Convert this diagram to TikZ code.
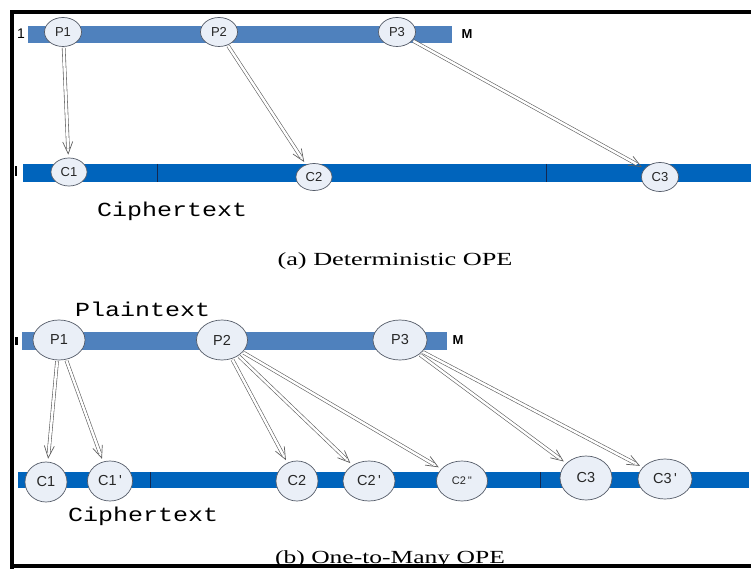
\documentclass[tikz,border=0pt]{standalone}
\usepackage{fontspec}
\setmainfont{Liberation Serif}
\newfontfamily\labelfont{Liberation Sans}
\newfontfamily\monofont{Liberation Mono}
\usetikzlibrary{arrows.meta,shapes.geometric,decorations.markings}

\definecolor{plainbar}{RGB}{79,129,189}
\definecolor{cipherbar}{RGB}{0,100,188}
\definecolor{divider}{RGB}{20,40,80}
\definecolor{ovalfill}{RGB}{234,239,247}
\definecolor{ovalline}{RGB}{85,92,105}
\definecolor{arrowline}{RGB}{95,95,95}

\begin{document}
\begin{tikzpicture}[x=1pt,y=-1pt,
  oval/.style={ellipse, draw=ovalline, line width=0.7pt, fill=ovalfill,
    inner sep=0pt, text=black!85, font=\labelfont\fontsize{13}{13}\selectfont},
  bigoval/.style={oval, minimum height=40pt,
    font=\labelfont\fontsize{14.5}{14.5}\selectfont},
  % hollow double shaft ending inside an open barb head
  maparrow/.style={draw=arrowline, line width=0.6pt, double=white,
    double distance=2.4pt, shorten >=9pt, shorten <=1pt,
    postaction={decorate, decoration={markings,
      mark=at position -3pt with {\arrow[arrowline, line width=0.7pt]{Straight Barb[length=12pt, width=10pt]}}}}},
  axislabel/.style={font=\labelfont\fontsize{14}{14}\selectfont, inner sep=0pt},
  axisend/.style={font=\labelfont\bfseries\fontsize{13}{13}\selectfont, inner sep=0pt},
  sidetext/.style={font=\monofont\fontsize{20}{20}\selectfont, inner sep=0pt, anchor=base west},
  caption/.style={font=\fontsize{18.5}{18.5}\selectfont, inner sep=0pt, anchor=base}
]
\useasboundingbox (0,0) rectangle (751,569);
\fill[white] (0,0) rectangle (751,569);

% frame: top, left and bottom rules
\fill[black] (10,10) rectangle (751,14);
\fill[black] (10,10) rectangle (14,569);
\fill[black] (10,564) rectangle (751,568);

% ---------- (a) deterministic OPE ----------
\fill[plainbar] (28,26) rectangle (452,43);
\fill[cipherbar] (23,164) rectangle (751,182);
\draw[divider, line width=0.8pt] (157,164) -- (157,182);
\draw[divider, line width=0.8pt] (546,164) -- (546,182);
\fill[black] (15,166) rectangle (17,176);
\node[axislabel] (oneA) at (21,34) {1};
\node[axisend] (mA) at (467,34) {M};

\node[oval, minimum width=37pt, minimum height=29pt] (aP1) at (63,32) {P1};
\node[oval, minimum width=37pt, minimum height=29pt] (aP2) at (219,32) {P2};
\node[oval, minimum width=37pt, minimum height=29pt] (aP3) at (397,32) {P3};
\node[oval, minimum width=36pt, minimum height=28pt] (aC1) at (69,172) {C1};
\node[oval, minimum width=36pt, minimum height=27pt] (aC2) at (314,177) {C2};
\node[oval, minimum width=37pt, minimum height=29pt] (aC3) at (660,177) {C3};

\draw[maparrow] (aP1) -- (aC1);
\draw[maparrow] (aP2) -- (aC2);
\draw[maparrow] (aP3) -- (aC3);

\node[sidetext] (ctA) at (97,217) {\scalebox{1.25}[1]{Ciphertext}};
\node[caption] (capA) at (395,265) {\scalebox{1.42}[1]{(a) Deterministic OPE}};

% ---------- (b) one-to-many OPE ----------
\node[sidetext] (ptB) at (75,316) {\scalebox{1.25}[1]{Plaintext}};
\fill[plainbar] (22,332) rectangle (447,350);
\fill[cipherbar] (18,472) rectangle (749,488);
\draw[divider, line width=0.8pt] (150,472) -- (150,488);
\draw[divider, line width=0.8pt] (540,472) -- (540,488);
\fill[black] (15,337) rectangle (18,345);
\node[axisend] (mB) at (458,340) {M};

\node[bigoval, minimum width=52pt] (bP1) at (59,340) {P1};
\node[bigoval, minimum width=51pt] (bP2) at (222,340) {P2};
\node[bigoval, minimum width=54pt] (bP3) at (400,340) {P3};

\node[bigoval, minimum width=42pt] (bC1) at (46,482) {C1};
\node[bigoval, minimum width=45pt] (bC1p) at (110,481) {C1\,\textquotesingle};
\node[bigoval, minimum width=42pt] (bC2) at (297,481) {C2};
\node[bigoval, minimum width=52pt] (bC2p) at (369,481) {C2\,\textquotesingle};
\node[bigoval, minimum width=51pt, font=\labelfont\fontsize{11}{11}\selectfont] (bC2pp) at (462,481) {C2\,\textquotesingle\textquotesingle};
\node[bigoval, minimum width=52pt, minimum height=44pt] (bC3) at (586,478) {C3};
\node[bigoval, minimum width=54pt] (bC3p) at (665,479) {C3\,\textquotesingle};

\draw[maparrow] (bP1) -- (bC1);
\draw[maparrow] (bP1) -- (bC1p);
\draw[maparrow] (bP2) -- (bC2);
\draw[maparrow] (bP2) -- (bC2p);
\draw[maparrow] (bP2) -- (bC2pp);
\draw[maparrow] (bP3) -- (bC3);
\draw[maparrow] (bP3) -- (bC3p);

\node[sidetext] (ctB) at (68,521) {\scalebox{1.25}[1]{Ciphertext}};
\node[caption] (capB) at (390,563) {\scalebox{1.38}[1]{(b) One-to-Many OPE}};
\end{tikzpicture}
\end{document}
